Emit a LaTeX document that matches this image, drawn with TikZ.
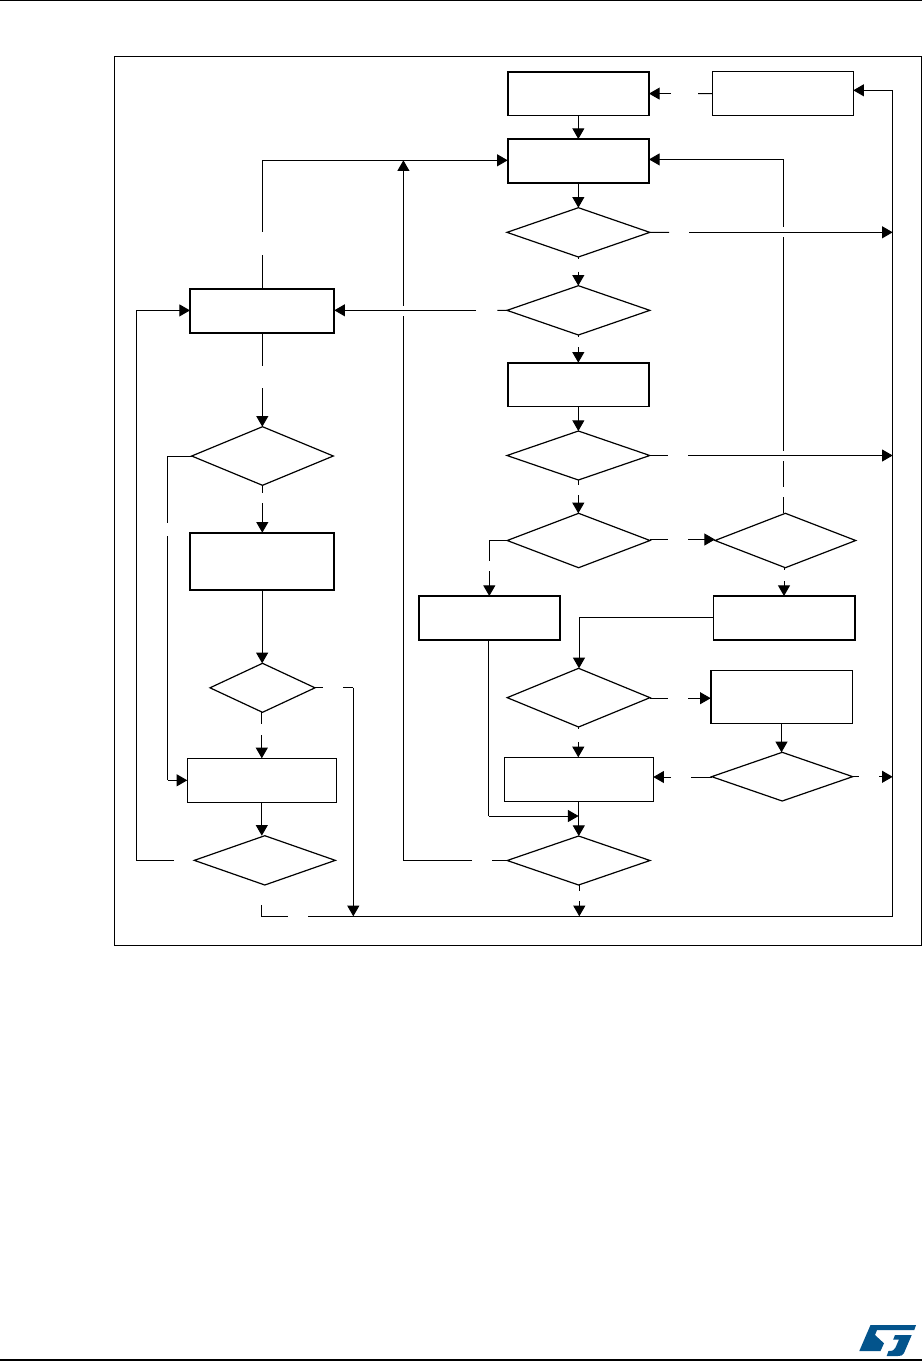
\documentclass[tikz,border=0pt]{standalone}
\usetikzlibrary{arrows.meta,shapes.geometric,calc}
\definecolor{stblue}{RGB}{3,84,140}
\tikzset{
  rectbox/.style={draw=black,line width=0.9pt,inner sep=0pt,outer sep=0pt,fill=white},
  thickbox/.style={rectbox,line width=1.7pt},
  medbox/.style={rectbox,line width=1.2pt},
  decision/.style={diamond,draw=black,line width=0.9pt,inner sep=0pt,outer sep=0pt,fill=white},
  frameline/.style={draw=black,line width=0.8pt},
  conn/.style={draw=black,line width=0.75pt},
  arr/.style={conn,-{Triangle[length=8pt,width=9pt]},shorten >=0pt}
}
\newcommand{\bx}[6]{\node[#1,minimum width={(#5-#3)*0.75pt},minimum height={(#6-#4)*0.75pt}] (#2) at ({(#3+#5)/2},{(#4+#6)/2}) {};}
\newcommand{\dm}[5]{\pgfmathsetmacro{\dmasp}{(#4-#2)/(#5-#3)}\node[decision,shape aspect=\dmasp,minimum width={(#4-#2)*0.75pt},minimum height={(#5-#3)*0.75pt}] (#1) at ({(#2+#4)/2},{(#3+#5)/2}) {};}
\begin{document}
\begin{tikzpicture}[x=0.75pt,y=-0.75pt]
\useasboundingbox (0,0) rectangle (922,1361);
\fill[white] (0,0) rectangle (922,1361);
% page rules
\draw[frameline,line width=1pt] (0,0.6) -- (922,0.6);
\draw[frameline,line width=1pt] (0,1360) -- (922,1360);
% frame
\bx{rectbox,line width=0.8pt,fill=none}{frame}{114.4}{56.2}{921.6}{945.2}
% right-hand boxes and decisions
\bx{medbox}{b1}{507.7}{71.7}{649}{115.5}
\bx{rectbox}{b2}{712.3}{71.7}{853.3}{115.5}
\bx{thickbox}{b3}{507.7}{139}{649}{183}
\dm{d1}{507}{207.7}{649.8}{257}
\dm{d2}{507}{285.7}{649.8}{335}
\bx{medbox}{b4}{507.7}{362.7}{649}{406.3}
\dm{d3}{507}{431}{649.8}{480}
\dm{d4}{507.2}{513.3}{650}{567.7}
\dm{d5}{715}{513.3}{855.7}{567.7}
\bx{thickbox}{b5}{419}{596}{560.3}{640}
\bx{medbox}{b6}{713.3}{596}{854.7}{640}
\dm{d6}{507.2}{668.3}{650}{727}
\bx{medbox}{b7}{710.7}{670.3}{852.3}{723.3}
\dm{d7}{711.7}{752.3}{852.7}{801}
\bx{medbox}{b8}{504.3}{757.3}{653.3}{801.3}
\dm{d8}{507.2}{836}{650}{885}
% left-hand column
\bx{thickbox}{b9}{190}{288.7}{334.3}{333}
\dm{d9}{191.7}{426.7}{333.3}{485.3}
\bx{thickbox}{b10}{190}{532.7}{334.3}{590}
\dm{d10}{210}{663.3}{315}{712.3}
\bx{medbox}{b11}{187.3}{758.3}{336.3}{802.3}
\dm{d11}{194.3}{835.7}{335.3}{885}
% named free ends
\coordinate (busr) at (892.7,916.3);
\coordinate (rt) at (892.7,90.3);
\coordinate (g1) at (698,93.6);
\coordinate (g2) at (671,93.6);
\coordinate (g3) at (669,232.3);
\coordinate (g4) at (689,232.3);
\coordinate (g5) at (578.3,259);
\coordinate (g6) at (578.3,271.7);
\coordinate (g7) at (497.3,310.3);
\coordinate (g8) at (476,310.3);
\coordinate (g9) at (578.3,337);
\coordinate (g10) at (578.3,347);
\coordinate (g11) at (668,455.5);
\coordinate (g12) at (688,455.5);
\coordinate (g13) at (578.3,485);
\coordinate (g14) at (578.3,495);
\coordinate (g15) at (667.7,539.5);
\coordinate (g16) at (688,539.5);
% loop-back from d5
\coordinate (g17) at (783.6,496.7);
\coordinate (g18) at (783.6,486.7);
\coordinate (g19) at (783.6,460.7);
\coordinate (g20) at (783.6,450.7);
\coordinate (g21) at (783.6,237);
\coordinate (g22) at (783.6,226.7);
\coordinate (g23) at (784,570);
\coordinate (g24) at (784,581);
\coordinate (g25) at (667.7,698.2);
\coordinate (g26) at (688,698.2);
\coordinate (g27) at (691,777);
\coordinate (g28) at (671,777);
\coordinate (g29) at (859,776.8);
\coordinate (g30) at (879,776.8);
\coordinate (g31) at (578.3,729);
\coordinate (g32) at (578.3,742.3);
\coordinate (g33) at (489.3,560.7);
\coordinate (g34) at (489.3,571);
\coordinate (g35) at (488.5,816);
\coordinate (g36) at (579.3,890.7);
\coordinate (g37) at (579.3,901.3);
\coordinate (g38) at (492,860.4);
\coordinate (g39) at (472,860.4);
\coordinate (g40) at (403.4,316);
\coordinate (g41) at (403.4,305.7);
\coordinate (g42) at (262.3,255);
\coordinate (g43) at (262.3,231.7);
\coordinate (g44) at (262.3,365.7);
\coordinate (g45) at (262.3,388.3);
\coordinate (g46) at (262.3,492.5);
\coordinate (g47) at (262.3,503.3);
\coordinate (g48) at (167.7,523.3);
\coordinate (g49) at (167.7,536);
\coordinate (g50) at (322.7,687.6);
\coordinate (g51) at (343.3,687.6);
\coordinate (g52) at (261.8,724.3);
\coordinate (g53) at (261.8,735);
\coordinate (g54) at (174,860.3);
\coordinate (g55) at (136.3,860.3);
\coordinate (g56) at (261.8,905);
\coordinate (g57) at (288,916.3);
\coordinate (g58) at (308,916.3);
\coordinate (g59) at (353.3,687.6);
\coordinate (g60) at (783.6,159.4);
\coordinate (g61) at (262.3,160.3);
\coordinate (g62) at (403.4,160.3);
\coordinate (g63) at (136.3,310.4);
\coordinate (g64) at (579,617.4);
\coordinate (g65) at (167.7,780.3);
% connectors
\draw[conn] (b2.west) -- (g1);
\draw[arr] (g2) -- (g2-|b1.east);
\draw[arr] (b1.south) -- (b1.south|-b3.north);
\draw[arr] (b3.south) -- (b3.south|-d1.north);
\draw[conn] (d1.east) -- (g3);
\draw[arr] (g4) -- (g4-|busr);
\draw[conn] (g5|-d1.south) -- (g5);
\draw[arr] (g6) -- (g6|-d2.north);
\draw[conn] (d2.west) -- (g7);
\draw[arr] (g8) -- (g8-|b9.east);
\draw[conn] (g9|-d2.south) -- (g9);
\draw[arr] (g10) -- (g10|-b4.north);
\draw[arr] (b4.south) -- (b4.south|-d3.north);
\draw[conn] (d3.east) -- (g11);
\draw[arr] (g12) -- (g12-|busr);
\draw[conn] (g13|-d3.south) -- (g13);
\draw[arr] (g14) -- (g14|-d4.north);
\draw[conn] (g15-|d4.east) -- (g15);
\draw[arr] (g16) -- (g16-|d5.west);
\draw[conn] (g17|-d5.north) -- (g17);
\draw[conn] (g18) -- (g19);
\draw[conn] (g20) -- (g21);
\draw[conn] (g22) -- (g60);
\draw[arr] (g60) -- (g60-|b3.east);
\draw[conn] (g23|-d5.south) -- (g23);
\draw[arr] (g24) -- (g24|-b6.north);
\draw[conn] (g64-|b6.west) -- (g64);
\draw[arr] (g64) -- (g64|-d6.north);
\draw[conn] (g25-|d6.east) -- (g25);
\draw[arr] (g26) -- (g26-|b7.west);
\draw[arr] (b7.south) -- (b7.south|-d7.north);
\draw[conn] (g27-|d7.west) -- (g27);
\draw[arr] (g28) -- (g28-|b8.east);
\draw[conn] (g29-|d7.east) -- (g29);
\draw[arr] (g30) -- (g30-|busr);
\draw[conn] (g31|-d6.south) -- (g31);
\draw[arr] (g32) -- (g32|-b8.north);
\draw[arr] (b8.south) -- (b8.south|-d8.north);
\draw[conn] (d4.west) -| (g33);
\draw[arr] (g34) -- (g34|-b5.north);
\draw[conn] (g35|-b5.south) -- (g35);
\draw[arr] (g35) -- (g35-|d8.north);
\draw[conn] (g36|-d8.south) -- (g36);
\draw[arr] (g37) -- (g37|-busr);
\draw[conn] (g38-|d8.west) -- (g38);
\draw[conn] (g39) -| (g40);
\draw[arr] (g41) -- (g62);
\draw[conn] (g42|-b9.north) -- (g42);
\draw[conn] (g43) -- (g61);
\draw[arr] (g61) -- (g61-|b3.west);
\draw[conn] (g44|-b9.south) -- (g44);
\draw[arr] (g45) -- (g45|-d9.north);
\draw[conn] (g46|-d9.south) -- (g46);
\draw[arr] (g47) -- (g47|-b10.north);
\draw[conn] (d9.west) -| (g48);
\draw[conn] (g49) -- (g65);
\draw[arr] (g65) -- (g65-|b11.west);
\draw[arr] (b10.south) -- (b10.south|-d10.north);
\draw[conn] (g50-|d10.east) -- (g50);
\draw[conn] (g51) -- (g59);
\draw[arr] (g59) -- (g59|-busr);
\draw[conn] (g52|-d10.south) -- (g52);
\draw[arr] (g53) -- (g53|-b11.north);
\draw[arr] (b11.south) -- (b11.south|-d11.north);
\draw[conn] (g54) -- (g55);
\draw[conn] (g55) -- (g63);
\draw[arr] (g63) -- (g63-|b9.west);
\draw[conn] (g56) |- (g57);
\draw[conn] (g58) -- (busr);
\draw[conn] (busr) -- (rt);
\draw[arr] (rt) -- (rt-|b2.east);
% logo
\fill[stblue] (870.5,1325) -- (916,1325) -- (914.3,1330) -- (877,1330) -- (875,1335) -- (884,1343.3) -- (880.5,1351) -- (859.3,1351) -- cycle;
\fill[stblue] (895,1335) -- (911.7,1335) -- (904,1353) .. controls (903,1355.5) and (901,1356) .. (898,1356) -- (886.7,1356) -- (888.5,1351) .. controls (893,1351) and (894.5,1350) .. (895.5,1347.5) -- (899,1339.5) -- (893.2,1339.5) -- cycle;
\end{tikzpicture}
\end{document}
